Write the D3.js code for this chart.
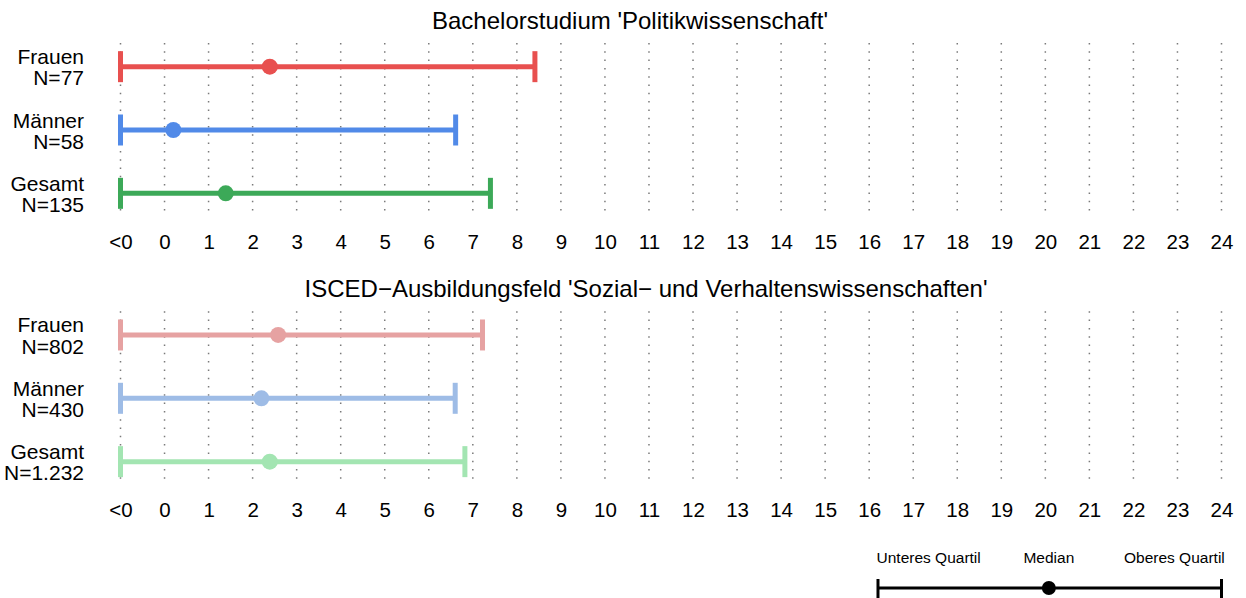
<!DOCTYPE html>
<html><head><meta charset="utf-8">
<script src="https://cdn.jsdelivr.net/npm/d3@7"></script>
<style>body{margin:0;background:#fff}svg{display:block;font-family:"Liberation Sans",Arial,sans-serif}</style>
</head><body><svg id="c" width="1246" height="598"></svg>
<script>
const groups = ["Frauen", "Männer", "Gesamt"];
const panelTitles = ["Bachelorstudium 'Politikwissenschaft'", "ISCED\u2212Ausbildungsfeld 'Sozial\u2212 und Verhaltenswissenschaften'"];
const nLabels1 = ["N=77", "N=58", "N=135"];
const nLabels2 = ["N=802", "N=430", "N=1.232"];
const lower1 = [-1, -1, -1];
const median1 = [2.39, 0.2, 1.39];
const upper1 = [8.41, 6.61, 7.40];
const lower2 = [-1, -1, -1];
const median2 = [2.58, 2.2, 2.39];
const upper2 = [7.22, 6.6, 6.82];
const colors1 = ["#E8504F", "#518AE8", "#3CA958"];
const colors2 = ["#E6A2A2", "#9EBCE6", "#A3E5B2"];
const tickValues = d3.range(-1, 25);
const tickLabels = tickValues.map(v => v < 0 ? "<0" : String(v));
const legendLabels = ["Unteres Quartil", "Median", "Oberes Quartil"];
const legendValues = [16.2, 20.08, 24];
const legendLabelValues = [17.35, 20.08, 22.93];

const svg = d3.select("#c");
const x = d3.scaleLinear().domain([-1, 24]).range([120.5, 1221.5]);

function stext(tx, ty, size, anchor, str) {
  return svg.append("text")
    .attr("transform", `translate(${tx},${ty})`)
    .attr("text-anchor", anchor).attr("font-size", size).attr("fill", "#000").text(str);
}

const panels = [
  {title: panelTitles[0], n: nLabels1, lo: lower1, med: median1, hi: upper1, col: colors1, top: 35, titleY: 28.5, titleX: 630},
  {title: panelTitles[1], n: nLabels2, lo: lower2, med: median2, hi: upper2, col: colors2, top: 303.3, titleY: 296.5, titleX: 646}
];

panels.forEach(p => {
  const y = d3.scaleBand().domain(groups).range([p.top, p.top + 190]);
  const g = svg.append("g");
  const y0 = p.top + 8, y1 = p.top + 182;
  g.selectAll("line.grid").data(tickValues).join("line")
    .attr("x1", d => x(d)).attr("x2", d => x(d))
    .attr("y1", y0).attr("y2", y1)
    .attr("stroke", "#7a7a7a").attr("stroke-width", 1.5)
    .attr("stroke-dasharray", "1.5 6.8");
  stext(p.titleX, p.titleY, 24, "middle", p.title);
  const axis = d3.axisBottom(x).tickValues(tickValues).tickFormat((d, i) => tickLabels[i]).tickSize(0).tickPadding(0);
  const ag = svg.append("g").attr("transform", `translate(0,${p.top + 199})`).call(axis);
  ag.select(".domain").remove();
  ag.selectAll("text").attr("font-size", 20.5).attr("fill", "#000")
    .attr("font-family", "Liberation Sans, Arial, sans-serif");
  groups.forEach((grp, i) => {
    const cy = y(grp) + y.bandwidth() / 2;
    const c = p.col[i];
    g.append("line").attr("x1", x(p.lo[i])).attr("x2", x(p.hi[i])).attr("y1", cy).attr("y2", cy)
      .attr("stroke", c).attr("stroke-width", 5);
    [p.lo[i], p.hi[i]].forEach(v => {
      g.append("line").attr("x1", x(v)).attr("x2", x(v)).attr("y1", cy - 15.5).attr("y2", cy + 15.5)
        .attr("stroke", c).attr("stroke-width", 5);
    });
    g.append("circle").attr("cx", x(p.med[i])).attr("cy", cy).attr("r", 8).attr("fill", c);
    const t = stext(84, cy, 21, "end", null);
    t.append("tspan").attr("x", 0).attr("y", -2.5).text(grp);
    t.append("tspan").attr("x", 0).attr("y", 18.8).text(p.n[i]);
  });
});

const ly = 588;
const lg = svg.append("g");
lg.append("line").attr("x1", x(legendValues[0])).attr("x2", x(legendValues[2])).attr("y1", ly).attr("y2", ly)
  .attr("stroke", "#000").attr("stroke-width", 3);
[legendValues[0], legendValues[2]].forEach(v => {
  lg.append("line").attr("x1", x(v)).attr("x2", x(v)).attr("y1", ly - 9).attr("y2", ly + 12)
    .attr("stroke", "#000").attr("stroke-width", 3);
});
lg.append("circle").attr("cx", x(legendValues[1])).attr("cy", ly).attr("r", 7).attr("fill", "#000");
legendLabels.forEach((l, i) => {
  stext(x(legendLabelValues[i]), 562.5, 15.5, "middle", l);
});
</script></body></html>
